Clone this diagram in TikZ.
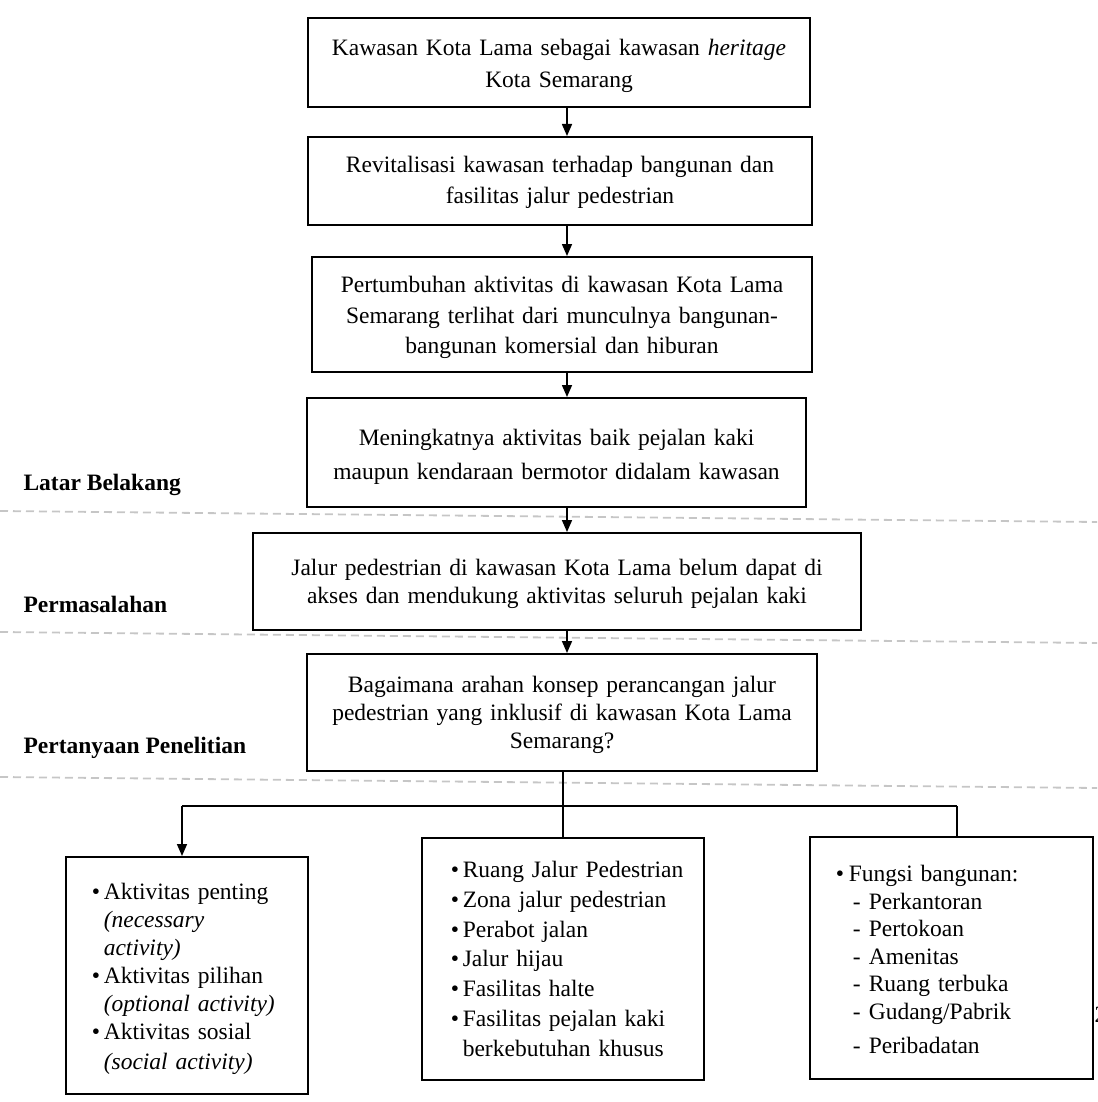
\documentclass[tikz,border=0pt]{standalone}
\usepackage{fontspec}
\setmainfont{Liberation Serif}
\usetikzlibrary{arrows.meta}

\newcommand{\itembul}{\makebox[12pt][l]{\textbullet}}
\newcommand{\itemdash}{\hspace*{17pt}\makebox[16pt][l]{-}}

\tikzset{
  flowbox/.style={draw, line width=1.6pt, inner sep=0pt, anchor=north, align=center,
    font=\fontsize{23.5}{#1}\selectfont},
  listbox/.style={draw, line width=1.6pt, inner ysep=0pt, anchor=north west, align=left,
    font=\fontsize{23.5}{#1}\selectfont},
  rowlabel/.style={anchor=base west, font=\fontsize{23.5}{28}\selectfont\bfseries},
  link/.style={line width=1.6pt},
  arrowlink/.style={link, -{Triangle[length=12pt,width=10pt]}},
  sep/.style={draw=gray!45, line width=1.8pt, dash pattern=on 8pt off 5pt},
}

\begin{document}
\begin{tikzpicture}[x=1pt,y=-1pt]
  \useasboundingbox (0,0) rectangle (1097,1102);

  \draw[sep] (0,511) -- (1097,522);
  \draw[sep] (0,632) -- (1097,643);
  \draw[sep] (0,777) -- (1097,788);

  \node[rowlabel] (lbl1) at (20,490) {Latar Belakang};
  \node[rowlabel] (lbl2) at (20,612) {Permasalahan};
  \node[rowlabel] (lbl3) at (20,753) {Pertanyaan Penelitian};

  \node[flowbox=32, text width=502pt, text height=38pt, text depth=51pt] (b1) at (559,17)
    {Kawasan Kota Lama sebagai kawasan \textit{heritage}\\Kota Semarang};
  \node[flowbox=31, text width=504pt, text height=36pt, text depth=52pt] (b2) at (560,136)
    {Revitalisasi kawasan terhadap bangunan dan\\fasilitas jalur pedestrian};
  \node[flowbox=30.5, text width=500pt, text height=36pt, text depth=79pt] (b3) at (562,256)
    {Pertumbuhan aktivitas di kawasan Kota Lama\\Semarang terlihat dari munculnya bangunan-\\bangunan komersial dan hiburan};
  \node[flowbox=34, text width=499pt, text height=48pt, text depth=61pt] (b4) at (556.5,397)
    {Meningkatnya aktivitas baik pejalan kaki\\maupun kendaraan bermotor didalam kawasan};
  \node[flowbox=28, text width=608pt, text height=43pt, text depth=54pt] (b5) at (557,532)
    {Jalur pedestrian di kawasan Kota Lama belum dapat di\\akses dan mendukung aktivitas seluruh pejalan kaki};
  \node[flowbox=28, text width=510pt, text height=39pt, text depth=78pt] (b6) at (562,653)
    {Bagaimana arahan konsep perancangan jalur\\pedestrian yang inklusif di kawasan Kota Lama\\Semarang?};

  \node[listbox=28, inner xsep=26pt, text width=190pt, text height=43pt, text depth=194pt] (bl) at (65,856)
    {\begin{tabular}[t]{@{}l@{}}
      \itembul Aktivitas penting\\
      \hspace*{12pt}\textit{(necessary}\\
      \hspace*{12pt}\textit{activity)}\\
      \itembul Aktivitas pilihan\\
      \hspace*{12pt}\textit{(optional activity)}\\
      \itembul Aktivitas sosial\\[2pt]
      \hspace*{12pt}\textit{(social activity)}
    \end{tabular}};
  \node[listbox=29.7, inner xsep=29pt, text width=224pt, text height=40pt, text depth=202pt] (bc) at (421,837)
    {\begin{tabular}[t]{@{}l@{}}
      \itembul Ruang Jalur Pedestrian\\
      \itembul Zona jalur pedestrian\\
      \itembul Perabot jalan\\
      \itembul Jalur hijau\\
      \itembul Fasilitas halte\\
      \itembul Fasilitas pejalan kaki\\
      \hspace*{12pt}berkebutuhan khusus
    \end{tabular}};
  \node[listbox=27.5, inner xsep=26pt, text width=231pt, text height=45pt, text depth=197pt] (br) at (809,836)
    {\begin{tabular}[t]{@{}l@{}}
      \makebox[13pt][l]{\textbullet}Fungsi bangunan:\\
      \itemdash Perkantoran\\
      \itemdash Pertokoan\\
      \itemdash Amenitas\\
      \itemdash Ruang terbuka\\
      \itemdash Gudang/Pabrik\\[7pt]
      \itemdash Peribadatan
    \end{tabular}};

  \node[anchor=base west, font=\fontsize{23.5}{28}\selectfont] (pg) at (1091,1022) {2};

  \coordinate (spine) at (567,0);
  \coordinate (fork) at (563,806);
  \coordinate (forkL) at (182,806);
  \coordinate (forkR) at (957,806);

  \draw[arrowlink] (b1.south -| spine) -- (b2.north -| spine);
  \draw[arrowlink] (b2.south -| spine) -- (b3.north -| spine);
  \draw[arrowlink] (b3.south -| spine) -- (b4.north -| spine);
  \draw[arrowlink] (b4.south -| spine) -- (b5.north -| spine);
  \draw[arrowlink] (b5.south -| spine) -- (b6.north -| spine);
  \draw[link] (b6.south -| fork) -- (bc.north -| fork);
  \draw[link] (forkL) -- (forkR);
  \draw[arrowlink] (forkL) -- (bl.north -| forkL);
  \draw[link] (forkR) -- (br.north -| forkR);
\end{tikzpicture}
\end{document}
